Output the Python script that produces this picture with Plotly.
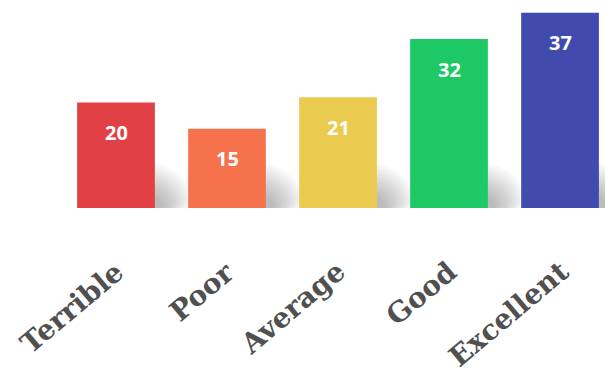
import plotly.graph_objects as go

# Ratings and their counts
categories = ["Terrible", "Poor", "Average", "Good", "Excellent"]
counts = [20, 15, 21, 32, 37]
bar_colors = ["#E14045", "#F6724C", "#EACA4F", "#1DC965", "#414BAE"]

LABEL_FONT = "DejaVu Serif"
VALUE_FONT = "Open Sans"

fig = go.Figure()

fig.add_trace(go.Bar(
    x=list(range(len(categories))),
    y=counts,
    marker=dict(color=bar_colors, line=dict(width=0)),
    width=0.70,
    hoverinfo="skip",
))

# Soft drop shadows to the right of each bar: stacked faint wedges,
# anchored at the bar's base and sized in pixels, blend into a blur.
shapes = []
half_w = 39
n_layers = 12
for i, v in enumerate(counts):
    for k in range(1, n_layers + 1):
        h = 10 + 3.0 * k
        r = 8 + 2.7 * k
        x0 = half_w - 3
        path = (
            f"M {x0},-3 "
            f"L {x0},{h:.1f} "
            f"Q {x0 + r * 0.8:.1f},{h * 0.85:.1f} {x0 + r:.1f},{h * 0.3:.1f} "
            f"Q {x0 + r * 1.05:.1f},-3 {x0 + r * 0.6:.1f},-3 Z"
        )
        shapes.append(dict(
            type="path", xref="x", yref="y",
            xsizemode="pixel", ysizemode="pixel",
            xanchor=i, yanchor=0,
            path=path,
            fillcolor="rgba(0,0,0,0.022)",
            line=dict(width=0),
            layer="below",
        ))

annotations = []
# Value labels inside the top of each bar
for i, v in enumerate(counts):
    annotations.append(dict(
        x=i, y=v, xref="x", yref="y",
        text=str(v), showarrow=False,
        yanchor="middle", yshift=-30,
        font=dict(family=VALUE_FONT, size=20, color="white", weight="bold"),
    ))

# Slanted category labels beneath the bars
for i, name in enumerate(categories):
    annotations.append(dict(
        x=i, y=0, xref="x", yref="y",
        text=name, showarrow=False,
        textangle=-40,
        xanchor="right", yanchor="top",
        xshift=17, yshift=-44,
        font=dict(family=LABEL_FONT, size=28, color="#505050", weight="bold"),
    ))

fig.update_layout(
    width=605, height=381,
    margin=dict(l=0, r=0, t=0, b=173),
    paper_bgcolor="white",
    plot_bgcolor="white",
    showlegend=False,
    xaxis=dict(range=[-1.045, 4.405], visible=False, fixedrange=True),
    yaxis=dict(range=[0, 39.4], visible=False, fixedrange=True),
    shapes=shapes,
    annotations=annotations,
)

fig.write_html("out.html")
